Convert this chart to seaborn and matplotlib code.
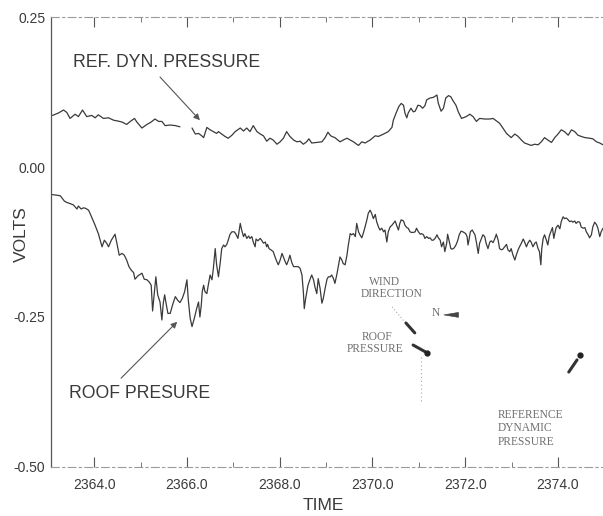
import numpy as np
import pandas as pd
import matplotlib
matplotlib.use("Agg")
import matplotlib.pyplot as plt
from matplotlib.ticker import FixedLocator, FormatStrFormatter, MultipleLocator
import seaborn as sns

# ---- data -------------------------------------------------------------
ref_time_a = [2363.10, 2363.23, 2363.34, 2363.41, 2363.48, 2363.59, 2363.66, 2363.75,
              2363.84, 2363.95, 2364.02, 2364.09, 2364.20, 2364.31, 2364.42, 2364.49,
              2364.60, 2364.70, 2364.78, 2364.87, 2364.92, 2365.03, 2365.14, 2365.23,
              2365.31, 2365.39, 2365.46, 2365.53, 2365.64, 2365.75, 2365.85]
ref_volts_a = [0.086, 0.090, 0.095, 0.091, 0.081, 0.088, 0.084, 0.095,
               0.084, 0.086, 0.082, 0.087, 0.081, 0.082, 0.078, 0.077,
               0.075, 0.071, 0.076, 0.081, 0.075, 0.065, 0.071, 0.075,
               0.080, 0.076, 0.076, 0.069, 0.070, 0.069, 0.067]

ref_time_b = [2366.11, 2366.18, 2366.25, 2366.32, 2366.36, 2366.43, 2366.50, 2366.57,
              2366.64, 2366.68, 2366.75, 2366.82, 2366.89, 2366.97, 2367.04, 2367.15,
              2367.22, 2367.29, 2367.36, 2367.43, 2367.51, 2367.58, 2367.65, 2367.72,
              2367.79, 2367.86, 2367.94, 2368.01, 2368.08, 2368.15, 2368.22, 2368.30,
              2368.37, 2368.44, 2368.51, 2368.58, 2368.63, 2368.69, 2368.80, 2368.91,
              2368.98, 2369.04, 2369.09, 2369.12, 2369.19, 2369.30, 2369.37, 2369.45,
              2369.52, 2369.59, 2369.66, 2369.70, 2369.77, 2369.84, 2369.95, 2370.06,
              2370.13, 2370.24, 2370.34, 2370.42, 2370.45, 2370.52, 2370.57, 2370.62,
              2370.67, 2370.70, 2370.74, 2370.77, 2370.83, 2370.88, 2370.92, 2370.98,
              2371.03, 2371.08, 2371.13, 2371.17, 2371.24, 2371.31, 2371.39, 2371.42,
              2371.48, 2371.53, 2371.58, 2371.64, 2371.69, 2371.74, 2371.80, 2371.85,
              2371.92, 2372.02, 2372.10, 2372.17, 2372.24, 2372.31, 2372.42, 2372.53,
              2372.60, 2372.67, 2372.74, 2372.81, 2372.89, 2372.99, 2373.07, 2373.14,
              2373.21, 2373.28, 2373.35, 2373.42, 2373.50, 2373.57, 2373.64, 2373.71,
              2373.78, 2373.86, 2373.93, 2374.00, 2374.07, 2374.14, 2374.22, 2374.29,
              2374.36, 2374.43, 2374.50, 2374.58, 2374.68, 2374.75, 2374.83, 2374.90,
              2374.97]
ref_volts_b = [0.065, 0.055, 0.056, 0.052, 0.049, 0.066, 0.062, 0.059,
               0.056, 0.059, 0.055, 0.051, 0.048, 0.053, 0.059, 0.065,
               0.060, 0.065, 0.059, 0.069, 0.059, 0.055, 0.052, 0.043,
               0.048, 0.045, 0.038, 0.042, 0.048, 0.059, 0.051, 0.045,
               0.042, 0.043, 0.038, 0.042, 0.047, 0.040, 0.041, 0.042,
               0.049, 0.058, 0.053, 0.051, 0.049, 0.042, 0.045, 0.048,
               0.045, 0.042, 0.038, 0.036, 0.042, 0.040, 0.045, 0.052,
               0.051, 0.055, 0.059, 0.066, 0.078, 0.092, 0.101, 0.106,
               0.103, 0.090, 0.082, 0.090, 0.098, 0.092, 0.093, 0.103,
               0.102, 0.098, 0.102, 0.112, 0.115, 0.116, 0.120, 0.106,
               0.093, 0.098, 0.115, 0.119, 0.117, 0.110, 0.103, 0.092,
               0.081, 0.084, 0.088, 0.084, 0.076, 0.081, 0.080, 0.080,
               0.081, 0.077, 0.073, 0.065, 0.056, 0.049, 0.055, 0.051,
               0.045, 0.040, 0.038, 0.036, 0.038, 0.037, 0.042, 0.049,
               0.045, 0.041, 0.049, 0.055, 0.062, 0.059, 0.053, 0.062,
               0.059, 0.053, 0.051, 0.049, 0.048, 0.047, 0.042, 0.040,
               0.037]

roof_time = [2363.10, 2363.20, 2363.27, 2363.30, 2363.36, 2363.41, 2363.48, 2363.55,
             2363.63, 2363.66, 2363.72, 2363.77, 2363.82, 2363.88, 2363.91, 2363.96,
             2364.02, 2364.06, 2364.09, 2364.13, 2364.17, 2364.22, 2364.27, 2364.31,
             2364.37, 2364.45, 2364.49, 2364.54, 2364.60, 2364.65, 2364.70, 2364.75,
             2364.80, 2364.85, 2364.88, 2364.95, 2365.03, 2365.08, 2365.14, 2365.19,
             2365.23, 2365.26, 2365.30, 2365.33, 2365.37, 2365.42, 2365.46, 2365.49,
             2365.52, 2365.55, 2365.59, 2365.64, 2365.69, 2365.75, 2365.80, 2365.85,
             2365.90, 2365.95, 2366.00, 2366.03, 2366.07, 2366.11, 2366.16, 2366.21,
             2366.25, 2366.28, 2366.31, 2366.33, 2366.36, 2366.39, 2366.43, 2366.46,
             2366.50, 2366.54, 2366.57, 2366.61, 2366.64, 2366.68, 2366.72, 2366.75,
             2366.79, 2366.82, 2366.86, 2366.89, 2366.93, 2366.97, 2367.02, 2367.05,
             2367.10, 2367.15, 2367.18, 2367.22, 2367.25, 2367.29, 2367.33, 2367.36,
             2367.40, 2367.43, 2367.47, 2367.49, 2367.53, 2367.58, 2367.61, 2367.65,
             2367.69, 2367.72, 2367.74, 2367.77, 2367.81, 2367.86, 2367.90, 2367.94,
             2367.97, 2368.01, 2368.05, 2368.08, 2368.12, 2368.15, 2368.19, 2368.22,
             2368.26, 2368.30, 2368.33, 2368.40, 2368.44, 2368.48, 2368.51, 2368.53,
             2368.56, 2368.61, 2368.66, 2368.69, 2368.73, 2368.76, 2368.80, 2368.83,
             2368.87, 2368.91, 2368.94, 2368.98, 2369.02, 2369.05, 2369.09, 2369.12,
             2369.16, 2369.19, 2369.23, 2369.27, 2369.30, 2369.34, 2369.37, 2369.41,
             2369.45, 2369.48, 2369.52, 2369.55, 2369.59, 2369.63, 2369.66, 2369.70,
             2369.73, 2369.77, 2369.80, 2369.84, 2369.88, 2369.91, 2369.95, 2369.98,
             2370.02, 2370.06, 2370.09, 2370.13, 2370.16, 2370.20, 2370.24, 2370.27,
             2370.31, 2370.34, 2370.38, 2370.42, 2370.45, 2370.49, 2370.52, 2370.56,
             2370.59, 2370.62, 2370.67, 2370.70, 2370.74, 2370.77, 2370.81, 2370.84,
             2370.88, 2370.92, 2370.95, 2370.99, 2371.03, 2371.06, 2371.10, 2371.13,
             2371.17, 2371.21, 2371.24, 2371.28, 2371.31, 2371.35, 2371.39, 2371.42,
             2371.46, 2371.49, 2371.53, 2371.56, 2371.60, 2371.62, 2371.65, 2371.69,
             2371.72, 2371.76, 2371.80, 2371.84, 2371.87, 2371.91, 2371.95, 2372.01,
             2372.04, 2372.06, 2372.08, 2372.11, 2372.15, 2372.21, 2372.24, 2372.28,
             2372.31, 2372.35, 2372.38, 2372.42, 2372.45, 2372.49, 2372.53, 2372.56,
             2372.60, 2372.64, 2372.67, 2372.71, 2372.74, 2372.78, 2372.81, 2372.85,
             2372.89, 2372.92, 2372.96, 2372.99, 2373.03, 2373.07, 2373.10, 2373.14,
             2373.17, 2373.21, 2373.25, 2373.28, 2373.32, 2373.35, 2373.39, 2373.42,
             2373.46, 2373.50, 2373.53, 2373.57, 2373.60, 2373.63, 2373.65, 2373.68,
             2373.71, 2373.75, 2373.78, 2373.81, 2373.83, 2373.88, 2373.91, 2373.93,
             2373.96, 2374.00, 2374.04, 2374.07, 2374.11, 2374.14, 2374.18, 2374.22,
             2374.25, 2374.29, 2374.32, 2374.36, 2374.39, 2374.43, 2374.47, 2374.50,
             2374.54, 2374.58, 2374.61, 2374.65, 2374.68, 2374.72, 2374.75, 2374.79,
             2374.83, 2374.86, 2374.90, 2374.93, 2374.97]
roof_volts = [-0.046, -0.047, -0.048, -0.051, -0.057, -0.059, -0.061, -0.063,
              -0.070, -0.065, -0.070, -0.068, -0.069, -0.072, -0.077, -0.086,
              -0.097, -0.105, -0.111, -0.122, -0.133, -0.122, -0.127, -0.133,
              -0.122, -0.112, -0.127, -0.147, -0.144, -0.147, -0.155, -0.166,
              -0.172, -0.176, -0.187, -0.181, -0.177, -0.187, -0.188, -0.192,
              -0.197, -0.240, -0.208, -0.183, -0.213, -0.225, -0.255, -0.227,
              -0.213, -0.227, -0.244, -0.244, -0.230, -0.216, -0.222, -0.226,
              -0.219, -0.208, -0.188, -0.222, -0.252, -0.266, -0.252, -0.236,
              -0.225, -0.250, -0.230, -0.208, -0.197, -0.208, -0.211, -0.197,
              -0.180, -0.188, -0.169, -0.136, -0.163, -0.183, -0.158, -0.136,
              -0.130, -0.133, -0.129, -0.122, -0.112, -0.108, -0.108, -0.111,
              -0.119, -0.094, -0.105, -0.116, -0.111, -0.119, -0.115, -0.119,
              -0.116, -0.125, -0.133, -0.120, -0.123, -0.119, -0.122, -0.127,
              -0.125, -0.133, -0.129, -0.136, -0.138, -0.141, -0.150, -0.158,
              -0.163, -0.155, -0.144, -0.150, -0.158, -0.163, -0.155, -0.147,
              -0.159, -0.166, -0.166, -0.166, -0.169, -0.180, -0.208, -0.236,
              -0.219, -0.197, -0.186, -0.180, -0.188, -0.200, -0.211, -0.186,
              -0.202, -0.227, -0.219, -0.202, -0.187, -0.183, -0.183, -0.180,
              -0.186, -0.194, -0.180, -0.163, -0.150, -0.155, -0.161, -0.163,
              -0.147, -0.130, -0.111, -0.113, -0.111, -0.116, -0.094, -0.108,
              -0.113, -0.118, -0.111, -0.100, -0.088, -0.077, -0.072, -0.077,
              -0.086, -0.079, -0.091, -0.100, -0.105, -0.102, -0.108, -0.105,
              -0.125, -0.108, -0.100, -0.097, -0.094, -0.090, -0.097, -0.105,
              -0.094, -0.088, -0.090, -0.097, -0.101, -0.102, -0.108, -0.109,
              -0.109, -0.108, -0.102, -0.108, -0.112, -0.111, -0.113, -0.119,
              -0.116, -0.119, -0.118, -0.122, -0.122, -0.119, -0.113, -0.118,
              -0.122, -0.133, -0.125, -0.141, -0.127, -0.112, -0.122, -0.136,
              -0.137, -0.135, -0.130, -0.122, -0.113, -0.107, -0.108, -0.111,
              -0.116, -0.130, -0.122, -0.108, -0.105, -0.113, -0.125, -0.144,
              -0.127, -0.119, -0.113, -0.116, -0.127, -0.136, -0.125, -0.123,
              -0.126, -0.119, -0.112, -0.122, -0.136, -0.138, -0.137, -0.133,
              -0.129, -0.138, -0.141, -0.136, -0.147, -0.155, -0.147, -0.138,
              -0.133, -0.127, -0.120, -0.125, -0.133, -0.127, -0.122, -0.125,
              -0.133, -0.127, -0.125, -0.136, -0.141, -0.163, -0.136, -0.119,
              -0.113, -0.122, -0.130, -0.116, -0.111, -0.101, -0.119, -0.111,
              -0.101, -0.097, -0.103, -0.091, -0.083, -0.086, -0.085, -0.088,
              -0.091, -0.090, -0.092, -0.090, -0.094, -0.091, -0.092, -0.100,
              -0.102, -0.101, -0.108, -0.113, -0.118, -0.113, -0.100, -0.092,
              -0.096, -0.102, -0.116, -0.108, -0.102]

y_ticks = [0.25, 0.00, -0.25, -0.50]
y_tick_labels = ["0.25", "0.00", "-0.25", "-0.50"]
x_major = [2364.0, 2366.0, 2368.0, 2370.0, 2372.0, 2374.0]

# ---- long-form table: one row per sample, segments keep the gap ----
frames = [
    pd.DataFrame({"time": ref_time_a, "volts": ref_volts_a, "series": "ref", "segment": "ref_a"}),
    pd.DataFrame({"time": ref_time_b, "volts": ref_volts_b, "series": "ref", "segment": "ref_b"}),
    pd.DataFrame({"time": roof_time, "volts": roof_volts, "series": "roof", "segment": "roof"}),
]
df = pd.concat(frames, ignore_index=True)

# ---- figure -----------------------------------------------------------
sns.set_style("white")
plt.rcParams["font.family"] = ["Liberation Sans", "DejaVu Sans"]
plt.rcParams["axes.unicode_minus"] = False

ink = "#3a3a3a"
fig = plt.figure(figsize=(6.03, 5.16), dpi=100)
ax = fig.add_axes([0.0846, 0.095, 0.9154, 0.872])

sns.lineplot(data=df, x="time", y="volts", hue="series", units="segment",
             estimator=None, sort=False, legend=False,
             palette={"ref": ink, "roof": ink}, linewidth=0.9, ax=ax)

ax.set_xlim(2363.07, 2374.97)
ax.set_ylim(-0.50, 0.25)

# axes frame: solid left edge, faint broken top and bottom edges
ax.spines["right"].set_visible(False)
ax.spines["left"].set_color("#555555")
ax.spines["left"].set_linewidth(0.9)
for side in ("top", "bottom"):
    ax.spines[side].set_color("#9a9a9a")
    ax.spines[side].set_linewidth(0.8)
    ax.spines[side].set_linestyle((0, (7, 3, 2, 3)))

ax.xaxis.set_major_locator(FixedLocator(x_major))
ax.xaxis.set_minor_locator(MultipleLocator(1.0))
ax.xaxis.set_major_formatter(FormatStrFormatter("%.1f"))
ax.yaxis.set_major_locator(FixedLocator(y_ticks))
ax.set_yticklabels(y_tick_labels)

ax.tick_params(axis="x", which="major", direction="in", length=7, width=0.8,
               color="#555555", top=True, bottom=True, labelsize=10,
               labelcolor=ink, pad=8)
ax.tick_params(axis="x", which="minor", direction="in", length=3.5, width=0.7,
               color="#777777", top=True, bottom=True)
ax.tick_params(axis="y", which="major", direction="in", length=2.5, width=0.7,
               color="#777777", labelsize=10, labelcolor=ink, pad=4)

ax.set_xlabel("TIME", fontsize=12.5, color=ink)
ax.set_ylabel("VOLTS", fontsize=12.5, color=ink)
ax.xaxis.set_label_coords(0.493, -0.069)
ax.yaxis.set_label_coords(-0.040, 0.518)

# ---- series call-outs -------------------------------------------------
arrow_style = dict(arrowstyle="-|>", color="#555555", lw=0.8,
                   mutation_scale=9, shrinkA=0, shrinkB=0)
ax.text(2363.55, 0.175, "REF. DYN. PRESSURE", fontsize=12.7, color=ink,
        ha="left", va="center")
ax.annotate("", xy=(2366.28, 0.078), xytext=(2365.42, 0.150),
            arrowprops=arrow_style)
ax.text(2363.46, -0.377, "ROOF PRESURE", fontsize=12.7, color=ink,
        ha="left", va="center")
ax.annotate("", xy=(2365.79, -0.258), xytext=(2364.58, -0.352),
            arrowprops=arrow_style)

# ---- wind-direction key ----------------------------------------------
serif = ["Liberation Serif", "DejaVu Serif"]
key_ink = "#707070"
tr = ax.transAxes
key_txt = dict(transform=tr, family=serif, fontsize=8.3, color=key_ink)
ax.text(0.605, 0.411, "WIND", ha="center", va="center", **key_txt)
ax.text(0.618, 0.384, "DIRECTION", ha="center", va="center", **key_txt)
ax.text(0.697, 0.342, "N", ha="center", va="center", **key_txt)
ax.annotate("", xy=(0.712, 0.338), xytext=(0.738, 0.338), xycoords=tr,
            arrowprops=dict(arrowstyle="wedge,tail_width=0.35", color="#444444",
                            lw=0.5, shrinkA=0, shrinkB=0))
ax.plot([0.618, 0.641], [0.356, 0.322], transform=tr, color="#aaaaaa",
        lw=0.8, ls=(0, (1, 2)))
ax.plot([0.643, 0.659], [0.320, 0.298], transform=tr, color="#333333",
        lw=2.2, solid_capstyle="round")
ax.text(0.591, 0.289, "ROOF", ha="center", va="center", **key_txt)
ax.text(0.587, 0.262, "PRESSURE", ha="center", va="center", **key_txt)
ax.plot([0.656, 0.678], [0.271, 0.256], transform=tr, color="#333333",
        lw=2.2, solid_capstyle="round")
ax.plot([0.681], [0.253], transform=tr, marker="o", ms=3.5, color="#222222")
ax.plot([0.670, 0.670], [0.244, 0.142], transform=tr, color="#aaaaaa",
        lw=0.8, ls=(0, (1, 2.5)))
ax.plot([0.958], [0.249], transform=tr, marker="o", ms=3.5, color="#222222")
ax.plot([0.953, 0.938], [0.238, 0.211], transform=tr, color="#333333",
        lw=2.2, solid_capstyle="round")
ax.text(0.810, 0.116, "REFERENCE", ha="left", va="center", **key_txt)
ax.text(0.810, 0.087, "DYNAMIC", ha="left", va="center", **key_txt)
ax.text(0.810, 0.056, "PRESSURE", ha="left", va="center", **key_txt)

fig.savefig("out.png", dpi=100)
